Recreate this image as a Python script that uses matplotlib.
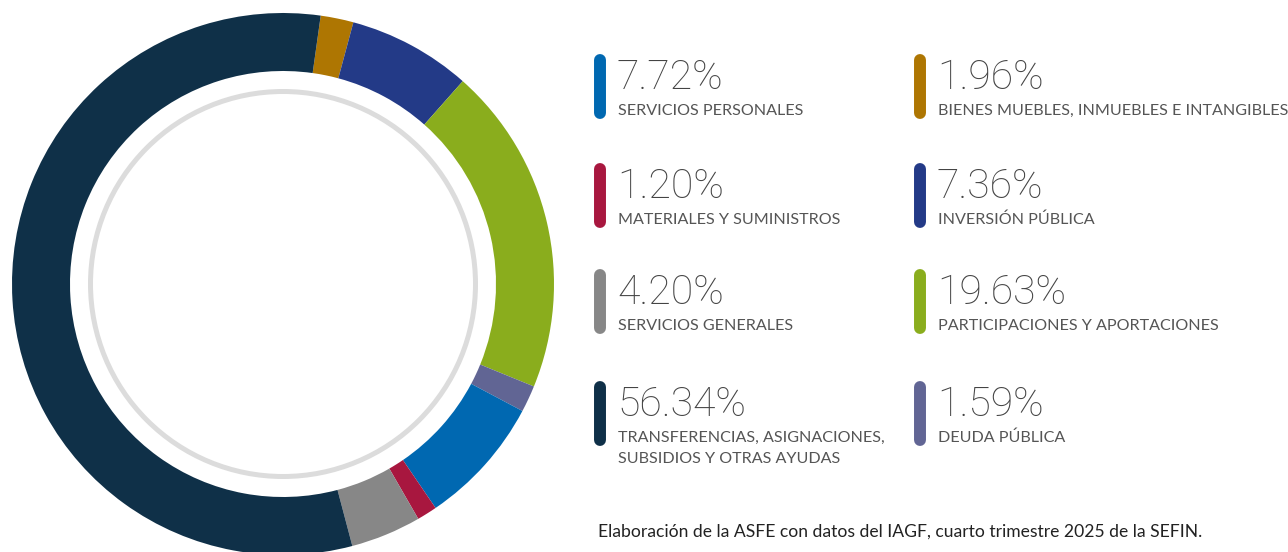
import matplotlib
matplotlib.use("Agg")
import matplotlib.pyplot as plt

# ---- datos ----
categories = ["SERVICIOS PERSONALES",
              "BIENES MUEBLES, INMUEBLES E INTANGIBLES",
              "MATERIALES Y SUMINISTROS",
              "INVERSIÓN PÚBLICA",
              "SERVICIOS GENERALES",
              "PARTICIPACIONES Y APORTACIONES",
              "TRANSFERENCIAS, ASIGNACIONES,\nSUBSIDIOS Y OTRAS AYUDAS",
              "DEUDA PÚBLICA"]
shares = [7.72, 1.96, 1.20, 7.36, 4.20, 19.63, 56.34, 1.59]
colors = ["#0068b1", "#ae7602", "#a8173f", "#233a87",
          "#878787", "#8aad1d", "#0f3048", "#616594"]
# orden de las rebanadas en sentido horario desde arriba
pie_order = [1, 3, 5, 7, 0, 2, 4, 6]
caption = "Elaboración de la ASFE con datos del IAGF, cuarto trimestre 2025 de la SEFIN."

W, H = 1288, 552
fig = plt.figure(figsize=(W / 100, H / 100), dpi=100)

# ---- dona ----
cx, cy, r = 283, 284, 271
ax = fig.add_axes([(cx - r) / W, (H - cy - r) / H, 2 * r / W, 2 * r / H])
ax.pie([shares[i] for i in pie_order], colors=[colors[i] for i in pie_order],
       startangle=82, counterclock=False, radius=1,
       wedgeprops=dict(width=58 / r, linewidth=0))
ax.add_patch(plt.Circle((0, 0), 192.5 / r, fill=False, ec="#dcdcdc", lw=3.6))
ax.set_xlim(-1, 1); ax.set_ylim(-1, 1)
ax.set_aspect("equal")
ax.axis("off")

# ---- leyenda (coordenadas en px) ----
lg = fig.add_axes([0, 0, 1, 1])
lg.set_xlim(0, W); lg.set_ylim(H, 0)
lg.axis("off")

col_x = [600, 920]
row_top = [54, 163, 269, 381]
for k, (v, lab, c) in enumerate(zip(shares, categories, colors)):
    row, col = divmod(k, 2)
    x, y = col_x[col], row_top[row]
    lg.plot([x, x], [y + 6, y + 59], color=c, lw=8.6, solid_capstyle="round")
    lg.text(x + 17, y + 35, f"{v:.2f}%", fontsize=29.5, family="Roboto",
            weight="light", color="#444444", va="baseline")
    # varias líneas: una a una para fijar la línea base
    for j, line in enumerate(lab.split("\n")):
        lg.text(x + 18, y + 61 + 21 * j, line, fontsize=11.6, family="Lato",
                color="#555555", va="baseline")

lg.text(598, 537, caption, fontsize=12.6, family="Lato", color="#222222",
        va="baseline")

fig.savefig("out.png", dpi=100)
